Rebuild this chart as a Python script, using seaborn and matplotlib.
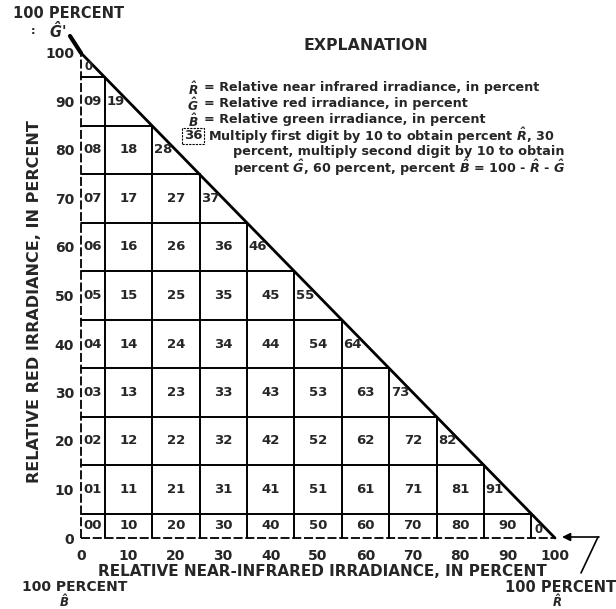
import matplotlib
matplotlib.use("Agg")
import matplotlib.pyplot as plt
import seaborn as sns
import pandas as pd
from matplotlib.mathtext import MathTextParser

# ---------------- data ----------------
tick_values = [0, 10, 20, 30, 40, 50, 60, 70, 80, 90, 100]
tick_labels = ["0", "10", "20", "30", "40", "50", "60", "70", "80", "90", "100"]
grid_values = [5, 15, 25, 35, 45, 55, 65, 75, 85, 95]
row0 = ["00", "10", "20", "30", "40", "50", "60", "70", "80", "90", "0"]
row1 = ["01", "11", "21", "31", "41", "51", "61", "71", "81", "91"]
row2 = ["02", "12", "22", "32", "42", "52", "62", "72", "82"]
row3 = ["03", "13", "23", "33", "43", "53", "63", "73"]
row4 = ["04", "14", "24", "34", "44", "54", "64"]
row5 = ["05", "15", "25", "35", "45", "55"]
row6 = ["06", "16", "26", "36", "46"]
row7 = ["07", "17", "27", "37"]
row8 = ["08", "18", "28"]
row9 = ["09", "19"]
row10 = ["0"]
cell_rows = [row0, row1, row2, row3, row4, row5, row6, row7, row8, row9, row10]
hyp_r = [0, 100]
hyp_g = [100, 0]

W, H = 616, 609
sns.set_style("white")
plt.rcParams['font.family'] = ['DejaVu Sans']
plt.rcParams['mathtext.fontset'] = 'dejavusans'

# bold-italic hatted symbols if supported
try:
    MathTextParser("agg").parse(r"$\mathbfit{\hat{R}}$", dpi=100)
    def hat(c):
        return r"$\mathbfit{\hat{%s}}$" % c
except Exception:
    def hat(c):
        return r"$\hat{%s}$" % c

fig = plt.figure(figsize=(W / 100, H / 100), dpi=100)
ax = fig.add_axes([81 / W, 1 - 538 / H, 474 / W, 485 / H])
ax.set_xlim(0, 100)
ax.set_ylim(0, 100)
for s in ax.spines.values():
    s.set_visible(False)


def P(x, y):
    return (x / W, 1 - y / H)


# hypotenuse
df = pd.DataFrame({"R": hyp_r, "G": hyp_g})
sns.lineplot(data=df, x="R", y="G", ax=ax, color="black", lw=2.0, clip_on=False)
# dashed left & bottom boundaries
ax.plot([0, 0], [0, 100], color="black", lw=1.3, ls=(0, (5, 1.5)), clip_on=False)
ax.plot([0, 100], [0, 0], color="black", lw=1.3, ls=(0, (5, 1.5)), clip_on=False)
# interior grid
for v in grid_values:
    ax.plot([v, v], [0, 100 - v], color="black", lw=1.4, clip_on=False)
    ax.plot([0, 100 - v], [v, v], color="black", lw=1.4, clip_on=False)

# cell labels
cfs = 9.5
for j, row in enumerate(cell_rows):
    for i, code in enumerate(row):
        r, g = tick_values[i], tick_values[j]
        if j == 10:
            ax.text(1.7, 97.2, code, ha="center", va="center", fontsize=8.5, fontweight="bold")
            continue
        if i == 10:
            ax.text(96.6, 1.8, code, ha="center", va="center", fontsize=8.5, fontweight="bold")
            continue
        y = 2.5 if g == 0 else g
        if i + j == 10:
            ax.text(r - 4.6, y, code, ha="left", va="center", fontsize=cfs, fontweight="bold")
        else:
            x = 2.5 if r == 0 else r
            ax.text(x, y, code, ha="center", va="center", fontsize=cfs, fontweight="bold")

ax.set_xticks(tick_values)
ax.set_xticklabels(tick_labels, fontsize=10, fontweight="bold")
ax.set_yticks(tick_values)
ax.set_yticklabels(tick_labels, fontsize=10, fontweight="bold")
ax.tick_params(axis="both", length=0)
ax.tick_params(axis="x", pad=8)
ax.tick_params(axis="y", pad=5)
ax.set_xlabel("")
ax.set_ylabel("")

fig.text(*P(322, 572), "RELATIVE NEAR-INFRARED IRRADIANCE, IN PERCENT",
         ha="center", va="center", fontsize=11, fontweight="bold")
fig.text(*P(35, 302), "RELATIVE RED IRRADIANCE, IN PERCENT", rotation=90,
         ha="center", va="center", fontsize=11.5, fontweight="bold")

# corner annotations
fig.text(*P(13, 13), "100 PERCENT", ha="left", va="center", fontsize=10.5, fontweight="bold")
fig.text(*P(33, 31), ":", ha="center", va="center", fontsize=8, fontweight="bold")
fig.text(*P(58, 31), hat("G") + "'", ha="center", va="center", fontsize=10.5, fontweight="bold")
ax.annotate("", xy=(0, 100), xytext=P(70, 36), textcoords="figure fraction",
            xycoords="data",
            arrowprops=dict(arrowstyle="-", lw=3.0, color="black", shrinkA=0, shrinkB=0))

fig.text(*P(22, 587), "100 PERCENT", ha="left", va="center", fontsize=10, fontweight="bold")
fig.text(*P(64, 602), hat("B"), ha="center", va="center", fontsize=8.5, fontweight="bold")
fig.text(*P(616, 587), "100 PERCENT", ha="right", va="center", fontsize=10.5, fontweight="bold")
fig.text(*P(557, 602), hat("R"), ha="center", va="center", fontsize=8.5, fontweight="bold")
ax.plot([P(581, 573)[0], P(598, 537)[0]], [P(581, 573)[1], P(598, 537)[1]],
        transform=fig.transFigure, color="black", lw=1.2, clip_on=False)
ax.annotate("", xy=P(562, 537), xytext=P(599, 537), xycoords="figure fraction",
            textcoords="figure fraction",
            arrowprops=dict(arrowstyle="-|>", lw=1.2, color="black", mutation_scale=12,
                            shrinkA=0, shrinkB=0))

# explanation
fig.text(*P(366, 45), "EXPLANATION", ha="center", va="center", fontsize=11.3, fontweight="bold")
fs = 9.2
lines = [
    (88, hat("R"), "= Relative near infrared irradiance, in percent"),
    (104, hat("G"), "= Relative red irradiance, in percent"),
    (120, hat("B"), "= Relative green irradiance, in percent"),
]
for y, sym, txt in lines:
    fig.text(*P(193, y + 1), sym, ha="center", va="center", fontsize=8.8, fontweight="bold")
    fig.text(*P(204, y), txt, ha="left", va="center", fontsize=fs, fontweight="bold")
fig.text(*P(193, 136), "36", ha="center", va="center", fontsize=fs + 0.3, fontweight="bold",
         bbox=dict(boxstyle="square,pad=0.15", fc="white", ec="black", lw=0.8, ls=(0, (2, 1))))
fig.text(*P(208, 136), "Multiply first digit by 10 to obtain percent " + hat("R") + ", 30",
         ha="left", va="center", fontsize=fs, fontweight="bold")
fig.text(*P(233, 152), "percent, multiply second digit by 10 to obtain",
         ha="left", va="center", fontsize=fs, fontweight="bold")
fig.text(*P(233, 168), "percent " + hat("G") + ", 60 percent, percent " + hat("B") +
         " = 100 - " + hat("R") + " - " + hat("G"),
         ha="left", va="center", fontsize=fs, fontweight="bold")

fig.savefig("out.png", dpi=100)
